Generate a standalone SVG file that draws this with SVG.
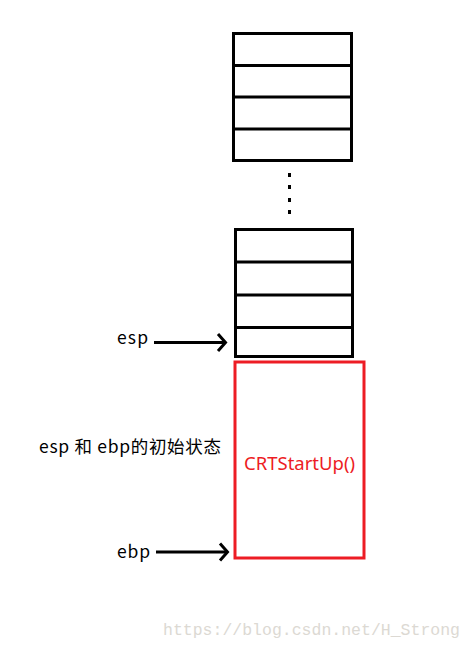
<svg xmlns="http://www.w3.org/2000/svg" width="473" height="649" viewBox="0 0 473 649">
<style>
.cell{fill:#fff;stroke:#000;stroke-width:3}
.div{stroke:#000;stroke-width:3}
.conn{stroke:#000;stroke-width:3;fill:none}
.lbl{font-family:"Noto Sans CJK SC","Noto Sans",sans-serif;font-size:17.5px;fill:#000}
</style>
<rect width="473" height="649" fill="#fff"/>
<g id="stack-top">
<rect class="cell" x="233.5" y="33.5" width="118" height="127"/>
<line class="div" x1="233.5" y1="65.5" x2="351.5" y2="65.5"/>
<line class="div" x1="233.5" y1="97" x2="351.5" y2="97"/>
<line class="div" x1="233.5" y1="129" x2="351.5" y2="129"/>
</g>
<g id="ellipsis" fill="#000">
<rect x="288" y="173" width="3" height="4"/>
<rect x="288" y="185" width="3" height="4"/>
<rect x="288" y="198" width="3" height="4"/>
<rect x="288" y="210" width="3" height="4"/>
</g>
<g id="stack-bottom">
<rect class="cell" x="235.5" y="229.5" width="117" height="127"/>
<line class="div" x1="235.5" y1="262" x2="352.5" y2="262"/>
<line class="div" x1="235.5" y1="295" x2="352.5" y2="295"/>
<line class="div" x1="235.5" y1="327.5" x2="352.5" y2="327.5"/>
</g>
<g id="crtstartup">
<rect x="235" y="362" width="129" height="196" fill="#fff" stroke="#ed1c24" stroke-width="3"/>
<text x="244" y="470" textLength="111" lengthAdjust="spacingAndGlyphs" font-family="'Noto Sans','Open Sans',sans-serif" font-size="17.5" fill="#ed1c24">CRTStartUp()</text>
</g>
<g id="labels">
<text class="lbl" x="117" y="344" textLength="31">esp</text>
<text class="lbl" x="39" y="453" textLength="182">esp 和 ebp的初始状态</text>
<text class="lbl" x="117" y="558" textLength="33">ebp</text>
</g>
<g id="connectors">
<line class="conn" x1="154" y1="342.5" x2="224" y2="342.5"/>
<polyline class="conn" points="218,334 225.5,342.5 218,351"/>
<line class="conn" x1="156" y1="552" x2="226" y2="552"/>
<polyline class="conn" points="220,543.5 227.5,552 220,560.5"/>
</g>
<text x="163" y="635" textLength="297" font-family="'Liberation Mono',monospace" font-size="16.5" fill="#dcd9d3">https://blog.csdn.net/H_Strong</text>
</svg>
